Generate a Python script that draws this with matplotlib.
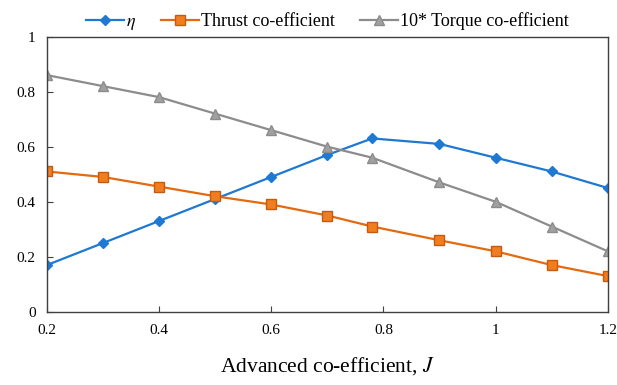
import matplotlib
matplotlib.use("Agg")
import matplotlib.pyplot as plt

J = [0.2, 0.3, 0.4, 0.5, 0.6, 0.7, 0.78, 0.9, 1.0, 1.1, 1.2]
eta = [0.17, 0.25, 0.33, 0.41, 0.49, 0.57, 0.63, 0.61, 0.56, 0.51, 0.45]
thrust = [0.51, 0.49, 0.455, 0.42, 0.39, 0.35, 0.31, 0.26, 0.22, 0.17, 0.13]
torque10 = [0.86, 0.82, 0.78, 0.72, 0.66, 0.60, 0.56, 0.47, 0.40, 0.31, 0.22]
xticks = [0.2, 0.4, 0.6, 0.8, 1.0, 1.2]
xticklabels = ["0.2", "0.4", "0.6", "0.8", "1", "1.2"]
yticks = [0, 0.2, 0.4, 0.6, 0.8, 1.0]
yticklabels = ["0", "0.2", "0.4", "0.6", "0.8", "1"]

plt.rcParams['font.family'] = ['Liberation Serif', 'DejaVu Serif']
plt.rcParams['mathtext.fontset'] = 'stix'

fig = plt.figure(figsize=(6.17, 3.85), dpi=100)
ax = fig.add_axes([0.076, 0.19, 0.909, 0.715])

ax.plot(J, eta, color='#1f78d1', lw=1.6, marker='D', ms=5, mec='#1f78d1', mfc='#1f78d1', label=r'$\eta$')
ax.plot(J, thrust, color='#e4690f', lw=1.6, marker='s', ms=7, mec='#c55a11', mfc='#f07d1f', label='Thrust co-efficient')
ax.plot(J, torque10, color='#8c8c8c', lw=1.6, marker='^', ms=6.5, mec='#8c8c8c', mfc='#a0a0a0', label='10* Torque co-efficient')

ax.set_xlim(0.2, 1.2)
ax.set_ylim(0, 1)
ax.set_xticks(xticks)
ax.set_xticklabels(xticklabels)
ax.set_yticks(yticks)
ax.set_yticklabels(yticklabels)
ax.tick_params(direction='in', labelsize=11, length=4, color='#404040')
ax.tick_params(axis='x', pad=9)
ax.tick_params(axis='y', pad=8)
for s in ax.spines.values():
    s.set_color('#404040')
    s.set_linewidth(1.0)

ax.set_xlabel('Advanced co-efficient, $J$', fontsize=15.5, labelpad=13)
ax.legend(loc='lower center', bbox_to_anchor=(0.5, 0.99), ncol=3, frameon=False,
          fontsize=13, handlelength=2.1, handletextpad=0.1, columnspacing=1.4, borderaxespad=0)

fig.savefig('out.png', dpi=100)
